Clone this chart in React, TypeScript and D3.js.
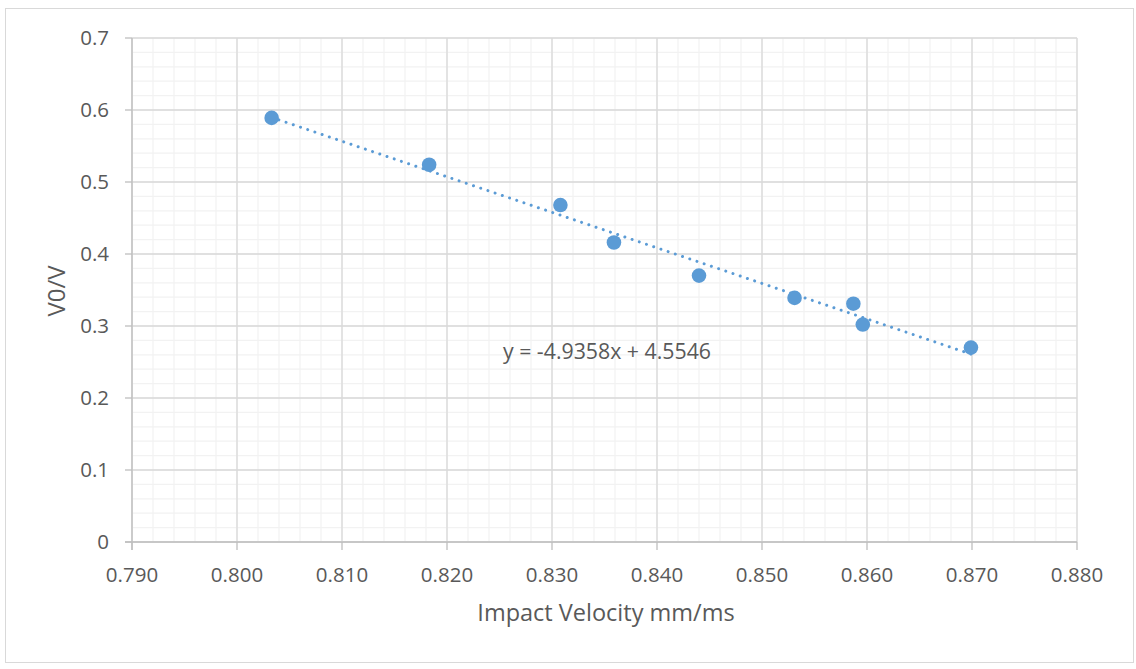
import React from "react";
import * as d3 from "d3";

const impactVelocity = [0.8033, 0.8183, 0.8308, 0.8359, 0.8440, 0.8531, 0.8587, 0.8596, 0.8699];
const v0OverV = [0.589, 0.524, 0.468, 0.416, 0.370, 0.339, 0.331, 0.302, 0.270];
const slope = -4.9358;
const intercept = 4.5546;
const xTicks = [0.79, 0.8, 0.81, 0.82, 0.83, 0.84, 0.85, 0.86, 0.87, 0.88];
const yTicks = [0, 0.1, 0.2, 0.3, 0.4, 0.5, 0.6, 0.7];

const W = 1136;
const H = 669;
const left = 132;
const right = 1077;
const top = 38;
const bottom = 542;
const font = "'Open Sans', 'Noto Sans', sans-serif";
const textColor = "#595959";
const blue = "#5b9bd5";

export default function App() {
  const x = d3.scaleLinear().domain([0.79, 0.88]).range([left, right]);
  const y = d3.scaleLinear().domain([0, 0.7]).range([bottom, top]);

  const xMinor = d3.range(0, 46).map((i) => 0.79 + i * 0.002);
  const yMinor = d3.range(0, 36).map((i) => i * 0.02);

  const xMin = d3.min(impactVelocity) as number;
  const xMax = d3.max(impactVelocity) as number;
  const trend = d3
    .line<number>()
    .x((d) => x(d))
    .y((d) => y(slope * d + intercept));

  return (
    <svg
      width={W}
      height={H}
      style={{ position: "absolute", left: 0, top: 0, background: "#fff" }}
    >
      <rect x={5.5} y={8.5} width={1128} height={654} fill="#fff" stroke="#d9d9d9" strokeWidth={1} />
      {xMinor.map((v, i) => (
        <line key={"xm" + i} x1={x(v)} x2={x(v)} y1={top} y2={bottom} stroke="#f2f2f2" strokeWidth={1.2} />
      ))}
      {yMinor.map((v, i) => (
        <line key={"ym" + i} x1={left} x2={right} y1={y(v)} y2={y(v)} stroke="#f2f2f2" strokeWidth={1.2} />
      ))}
      {xTicks.map((v, i) => (
        <line key={"xg" + i} x1={x(v)} x2={x(v)} y1={top} y2={bottom} stroke="#d9d9d9" strokeWidth={1.3} />
      ))}
      {yTicks.map((v, i) => (
        <line key={"yg" + i} x1={left} x2={right} y1={y(v)} y2={y(v)} stroke="#d9d9d9" strokeWidth={1.3} />
      ))}
      {/* axes */}
      <line x1={left} x2={left} y1={top} y2={bottom + 8} stroke="#bfbfbf" strokeWidth={1.3} />
      <line x1={left - 7} x2={right} y1={bottom} y2={bottom} stroke="#bfbfbf" strokeWidth={1.3} />
      {xTicks.map((v, i) => (
        <line key={"xt" + i} x1={x(v)} x2={x(v)} y1={bottom} y2={bottom + 8} stroke="#bfbfbf" strokeWidth={1.3} />
      ))}
      {yTicks.map((v, i) => (
        <line key={"yt" + i} x1={left - 7} x2={left} y1={y(v)} y2={y(v)} stroke="#bfbfbf" strokeWidth={1.3} />
      ))}
      {xTicks.map((v, i) => (
        <text key={"xl" + i} x={x(v)} y={bottom + 40} textAnchor="middle" fontFamily={font} fontSize={20.5} fill={textColor}>
          {d3.format(".3f")(v)}
        </text>
      ))}
      {yTicks.map((v, i) => (
        <text key={"yl" + i} x={left - 23} y={y(v) + 7} textAnchor="end" fontFamily={font} fontSize={20.5} fill={textColor}>
          {v === 0 ? "0" : d3.format(".1f")(v)}
        </text>
      ))}
      <path
        d={trend([xMin, xMax]) || ""}
        fill="none"
        stroke={blue}
        strokeWidth={3}
        strokeLinecap="round"
        strokeDasharray="0.01 7.6"
      />
      {impactVelocity.map((v, i) => (
        <circle key={"p" + i} cx={x(v)} cy={y(v0OverV[i])} r={7.3} fill={blue} />
      ))}
      <text x={607} y={359} textAnchor="middle" fontFamily={font} fontSize={21.3} fill={textColor}>
        y = -4.9358x + 4.5546
      </text>
      <text x={606} y={621} textAnchor="middle" fontFamily={font} fontSize={23.5} fill={textColor}>
        Impact Velocity mm/ms
      </text>
      <text
        transform={`translate(65, 291) rotate(-90)`}
        textAnchor="middle"
        fontFamily={font}
        fontSize={24}
        fill={textColor}
      >
        V0/V
      </text>
    </svg>
  );
}
